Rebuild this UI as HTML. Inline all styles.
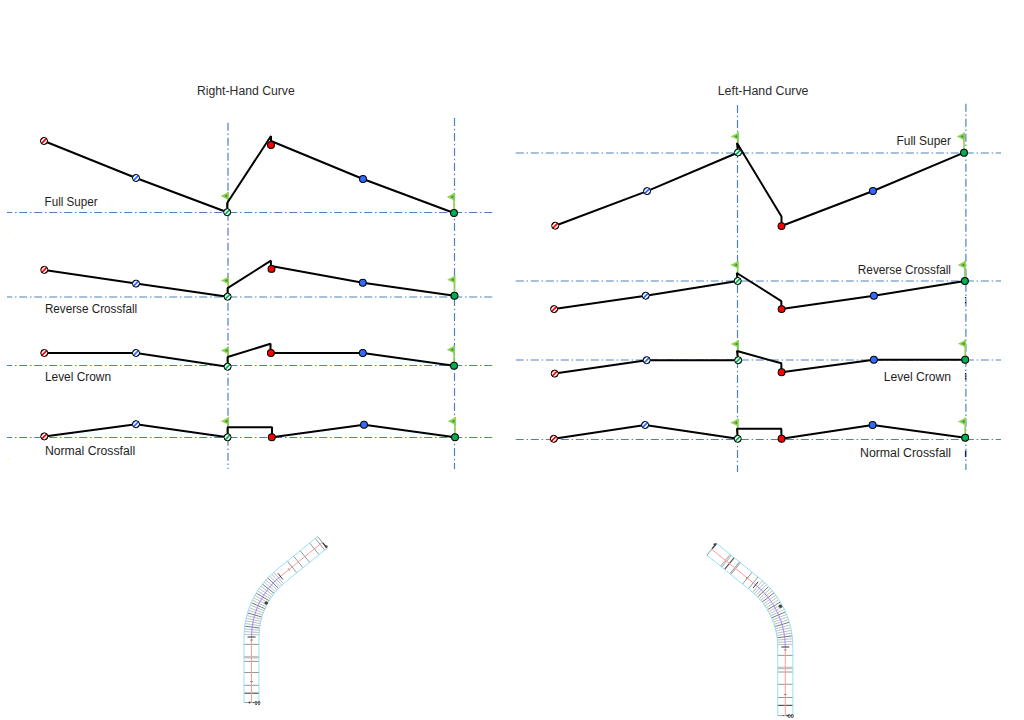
<!DOCTYPE html>
<html><head><meta charset="utf-8"><style>
html,body{margin:0;padding:0;background:#fff;}
svg{display:block;}
</style></head><body>
<svg width="1024" height="720" viewBox="0 0 1024 720">
<defs>
<filter id="bl" x="-10%" y="-10%" width="120%" height="120%"><feGaussianBlur stdDeviation="0.3"/></filter>
<clipPath id="cc"><circle r="3.6"/></clipPath>
<g id="hr"><g clip-path="url(#cc)"><rect x="-4" y="-4" width="8" height="8" fill="#fff"/><path d="M-6,6 L6,-6 M-3.67,8.33 L8.33,-3.67 M-8.33,3.67 L3.67,-8.33" stroke="#ff0000" stroke-width="1.75"/></g><circle r="3.55" fill="none" stroke="#000" stroke-width="1"/></g>
<g id="hb"><g clip-path="url(#cc)"><rect x="-4" y="-4" width="8" height="8" fill="#fff"/><path d="M-6,6 L6,-6 M-3.67,8.33 L8.33,-3.67 M-8.33,3.67 L3.67,-8.33" stroke="#2f6bff" stroke-width="1.75"/></g><circle r="3.55" fill="none" stroke="#000" stroke-width="1"/></g>
<g id="hg"><g clip-path="url(#cc)"><rect x="-4" y="-4" width="8" height="8" fill="#fff"/><path d="M-6,6 L6,-6 M-3.67,8.33 L8.33,-3.67 M-8.33,3.67 L3.67,-8.33" stroke="#00b050" stroke-width="1.75"/></g><circle r="3.55" fill="none" stroke="#000" stroke-width="1"/></g>
</defs>
<rect width="1024" height="720" fill="#fff"/>
<line x1="228.0" y1="122.7" x2="228.0" y2="469" stroke="#4f81bd" stroke-width="1.2" stroke-dasharray="8 2.8 1.5 2.7" stroke-dashoffset="0"/>
<line x1="454.5" y1="117.9" x2="454.5" y2="469" stroke="#4f81bd" stroke-width="1.2" stroke-dasharray="8 2.8 1.5 2.7" stroke-dashoffset="0"/>
<line x1="7" y1="212.5" x2="493" y2="212.5" stroke="#4f81bd" stroke-width="1.2" stroke-dasharray="8 2.8 1.5 2.7" stroke-dashoffset="2.8"/>
<line x1="7" y1="297.0" x2="493" y2="297.0" stroke="#4f81bd" stroke-width="1.2" stroke-dasharray="8 2.8 1.5 2.7" stroke-dashoffset="2.8"/>
<line x1="7" y1="365.5" x2="493" y2="365.5" stroke="#4f81bd" stroke-width="1.2" stroke-dasharray="8 2.8 1.5 2.7" stroke-dashoffset="2.8"/>
<line x1="7" y1="437.5" x2="493" y2="437.5" stroke="#4f81bd" stroke-width="1.2" stroke-dasharray="8 2.8 1.5 2.7" stroke-dashoffset="2.8"/>
<line x1="227.79999999999998" y1="192.0" x2="227.79999999999998" y2="209.2" stroke="#92d050" stroke-width="1.6"/>
<polygon points="228.54999999999998,192.0 228.54999999999998,200.0 220.49999999999997,196.1" fill="#92d050"/>
<polygon points="227.2,194.6 227.2,197.6 224.39999999999998,196.1" fill="#1f9e3f"/>
<line x1="454" y1="192.8" x2="454" y2="210" stroke="#92d050" stroke-width="1.6"/>
<polygon points="454.75,192.8 454.75,200.8 446.7,196.9" fill="#92d050"/>
<polygon points="453.4,195.4 453.4,198.4 450.6,196.9" fill="#1f9e3f"/>
<polyline points="44,141 136,178 227.2,212.2" fill="none" stroke="#000" stroke-width="2" stroke-linejoin="miter" stroke-miterlimit="1"/>
<polyline points="227.2,212.2 227.2,203 271,136 271,141" fill="none" stroke="#000" stroke-width="2" stroke-linejoin="miter" stroke-miterlimit="1"/>
<polyline points="271,141 363,179 454,213" fill="none" stroke="#000" stroke-width="2" stroke-linejoin="miter" stroke-miterlimit="1"/>
<use href="#hr" x="44" y="141"/>
<use href="#hb" x="136" y="178"/>
<use href="#hg" x="227.2" y="212.2"/>
<circle cx="271" cy="145" r="3.45" fill="#ff0000" stroke="#000" stroke-width="1.05"/>
<circle cx="363" cy="179" r="3.45" fill="#2f6bff" stroke="#000" stroke-width="1.05"/>
<circle cx="454" cy="213" r="3.45" fill="#00b050" stroke="#000" stroke-width="1.05"/>
<line x1="228.2" y1="276.5" x2="228.2" y2="293.7" stroke="#92d050" stroke-width="1.6"/>
<polygon points="228.95,276.5 228.95,284.5 220.89999999999998,280.6" fill="#92d050"/>
<polygon points="227.6,279.1 227.6,282.1 224.79999999999998,280.6" fill="#1f9e3f"/>
<line x1="454.5" y1="275.6" x2="454.5" y2="292.8" stroke="#92d050" stroke-width="1.6"/>
<polygon points="455.25,275.6 455.25,283.6 447.2,279.70000000000005" fill="#92d050"/>
<polygon points="453.9,278.20000000000005 453.9,281.20000000000005 451.1,279.70000000000005" fill="#1f9e3f"/>
<polyline points="44.3,269.9 136,283.6 227.6,296.7" fill="none" stroke="#000" stroke-width="2" stroke-linejoin="miter" stroke-miterlimit="1"/>
<polyline points="227.6,296.7 227.6,288.2 270.9,260.7 270.9,266" fill="none" stroke="#000" stroke-width="2" stroke-linejoin="miter" stroke-miterlimit="1"/>
<polyline points="271,266 362.8,282.7 454.5,295.8" fill="none" stroke="#000" stroke-width="2" stroke-linejoin="miter" stroke-miterlimit="1"/>
<use href="#hr" x="44.3" y="269.9"/>
<use href="#hb" x="136" y="283.6"/>
<use href="#hg" x="227.6" y="296.7"/>
<circle cx="271.5" cy="268.9" r="3.45" fill="#ff0000" stroke="#000" stroke-width="1.05"/>
<circle cx="362.8" cy="282.7" r="3.45" fill="#2f6bff" stroke="#000" stroke-width="1.05"/>
<circle cx="454.5" cy="295.8" r="3.45" fill="#00b050" stroke="#000" stroke-width="1.05"/>
<line x1="228.2" y1="346.5" x2="228.2" y2="363.7" stroke="#92d050" stroke-width="1.6"/>
<polygon points="228.95,346.5 228.95,354.5 220.89999999999998,350.6" fill="#92d050"/>
<polygon points="227.6,349.1 227.6,352.1 224.79999999999998,350.6" fill="#1f9e3f"/>
<line x1="454" y1="345.6" x2="454" y2="362.8" stroke="#92d050" stroke-width="1.6"/>
<polygon points="454.75,345.6 454.75,353.6 446.7,349.70000000000005" fill="#92d050"/>
<polygon points="453.4,348.20000000000005 453.4,351.20000000000005 450.6,349.70000000000005" fill="#1f9e3f"/>
<polyline points="44.3,353 136,353 227.6,366.7" fill="none" stroke="#000" stroke-width="2" stroke-linejoin="miter" stroke-miterlimit="1"/>
<polyline points="227.6,366.7 227.6,357 270.5,343.8 270.5,350" fill="none" stroke="#000" stroke-width="2" stroke-linejoin="miter" stroke-miterlimit="1"/>
<polyline points="270.9,353 362.8,353 454,365.8" fill="none" stroke="#000" stroke-width="2" stroke-linejoin="miter" stroke-miterlimit="1"/>
<use href="#hr" x="44.3" y="353"/>
<use href="#hb" x="136" y="353"/>
<use href="#hg" x="227.6" y="366.7"/>
<circle cx="270.9" cy="353" r="3.45" fill="#ff0000" stroke="#000" stroke-width="1.05"/>
<circle cx="362.8" cy="353" r="3.45" fill="#2f6bff" stroke="#000" stroke-width="1.05"/>
<circle cx="454" cy="365.8" r="3.45" fill="#00b050" stroke="#000" stroke-width="1.05"/>
<line x1="228.2" y1="417.1" x2="228.2" y2="434.3" stroke="#92d050" stroke-width="1.6"/>
<polygon points="228.95,417.1 228.95,425.1 220.89999999999998,421.20000000000005" fill="#92d050"/>
<polygon points="227.6,419.70000000000005 227.6,422.70000000000005 224.79999999999998,421.20000000000005" fill="#1f9e3f"/>
<line x1="455" y1="417.1" x2="455" y2="434.3" stroke="#92d050" stroke-width="1.6"/>
<polygon points="455.75,417.1 455.75,425.1 447.7,421.20000000000005" fill="#92d050"/>
<polygon points="454.4,419.70000000000005 454.4,422.70000000000005 451.6,421.20000000000005" fill="#1f9e3f"/>
<polyline points="44.3,436.4 136,424.2 227.6,437.3" fill="none" stroke="#000" stroke-width="2" stroke-linejoin="miter" stroke-miterlimit="1"/>
<polyline points="227.6,437.3 227.6,427.2 272,427.2 272,437.3" fill="none" stroke="#000" stroke-width="2" stroke-linejoin="miter" stroke-miterlimit="1"/>
<polyline points="272,437.3 364,424.8 455,437.3" fill="none" stroke="#000" stroke-width="2" stroke-linejoin="miter" stroke-miterlimit="1"/>
<use href="#hr" x="44.3" y="436.4"/>
<use href="#hb" x="136" y="424.2"/>
<use href="#hg" x="227.6" y="437.3"/>
<circle cx="271.8" cy="437.3" r="3.45" fill="#ff0000" stroke="#000" stroke-width="1.05"/>
<circle cx="364" cy="424.8" r="3.45" fill="#2f6bff" stroke="#000" stroke-width="1.05"/>
<circle cx="455" cy="437.3" r="3.45" fill="#00b050" stroke="#000" stroke-width="1.05"/>
<line x1="737.5" y1="104.2" x2="737.5" y2="472" stroke="#4f81bd" stroke-width="1.2" stroke-dasharray="8 2.8 1.5 2.7" stroke-dashoffset="-0.8"/>
<line x1="965.9" y1="103" x2="965.9" y2="470" stroke="#4f81bd" stroke-width="1.2" stroke-dasharray="8 2.8 1.5 2.7" stroke-dashoffset="-0.75"/>
<line x1="515.8" y1="153.0" x2="1001" y2="153.0" stroke="#4f81bd" stroke-width="1.2" stroke-dasharray="8 2.8 1.5 2.7" stroke-dashoffset="0"/>
<line x1="515.8" y1="281.0" x2="1001" y2="281.0" stroke="#4f81bd" stroke-width="1.2" stroke-dasharray="8 2.8 1.5 2.7" stroke-dashoffset="0"/>
<line x1="515.8" y1="360.0" x2="1001" y2="360.0" stroke="#4f81bd" stroke-width="1.2" stroke-dasharray="8 2.8 1.5 2.7" stroke-dashoffset="0"/>
<line x1="515.8" y1="439.5" x2="1001" y2="439.5" stroke="#4f81bd" stroke-width="1.2" stroke-dasharray="8 2.8 1.5 2.7" stroke-dashoffset="0"/>
<line x1="738" y1="132.3" x2="738" y2="149.5" stroke="#92d050" stroke-width="1.6"/>
<polygon points="738.75,132.3 738.75,140.3 730.7,136.4" fill="#92d050"/>
<polygon points="737.4,134.9 737.4,137.9 734.6,136.4" fill="#1f9e3f"/>
<line x1="964" y1="132.5" x2="964" y2="149.7" stroke="#92d050" stroke-width="1.6"/>
<polygon points="964.75,132.5 964.75,140.5 956.7,136.6" fill="#92d050"/>
<polygon points="963.4,135.1 963.4,138.1 960.6,136.6" fill="#1f9e3f"/>
<polyline points="555.2,225.7 647.1,191.1 738,152.5" fill="none" stroke="#000" stroke-width="2" stroke-linejoin="miter" stroke-miterlimit="1"/>
<polyline points="738,152.5 737,143 781.5,216.6 781.5,226" fill="none" stroke="#000" stroke-width="2" stroke-linejoin="miter" stroke-miterlimit="1"/>
<polyline points="781.5,226 873,191 964,152.7" fill="none" stroke="#000" stroke-width="2" stroke-linejoin="miter" stroke-miterlimit="1"/>
<use href="#hr" x="555.2" y="225.7"/>
<use href="#hb" x="647.1" y="191.1"/>
<use href="#hg" x="738" y="152.5"/>
<circle cx="781.5" cy="226.1" r="3.45" fill="#ff0000" stroke="#000" stroke-width="1.05"/>
<circle cx="872.9" cy="191" r="3.45" fill="#2f6bff" stroke="#000" stroke-width="1.05"/>
<circle cx="964" cy="152.7" r="3.45" fill="#00b050" stroke="#000" stroke-width="1.05"/>
<line x1="737.7" y1="260.8" x2="737.7" y2="278" stroke="#92d050" stroke-width="1.6"/>
<polygon points="738.45,260.8 738.45,268.8 730.4000000000001,264.90000000000003" fill="#92d050"/>
<polygon points="737.1,263.40000000000003 737.1,266.40000000000003 734.3000000000001,264.90000000000003" fill="#1f9e3f"/>
<line x1="964.9" y1="260.8" x2="964.9" y2="278" stroke="#92d050" stroke-width="1.6"/>
<polygon points="965.65,260.8 965.65,268.8 957.6,264.90000000000003" fill="#92d050"/>
<polygon points="964.3,263.40000000000003 964.3,266.40000000000003 961.5,264.90000000000003" fill="#1f9e3f"/>
<polyline points="554.1,309.1 645.7,295.7 737.7,281" fill="none" stroke="#000" stroke-width="2" stroke-linejoin="miter" stroke-miterlimit="1"/>
<polyline points="737.7,281 736.8,273 781.3,301.1 781.5,309.1" fill="none" stroke="#000" stroke-width="2" stroke-linejoin="miter" stroke-miterlimit="1"/>
<polyline points="781.5,309.1 873.9,295.7 964.9,281" fill="none" stroke="#000" stroke-width="2" stroke-linejoin="miter" stroke-miterlimit="1"/>
<use href="#hr" x="554.1" y="309.1"/>
<use href="#hb" x="645.7" y="295.7"/>
<use href="#hg" x="737.7" y="281"/>
<circle cx="781.6" cy="309.1" r="3.45" fill="#ff0000" stroke="#000" stroke-width="1.05"/>
<circle cx="873.9" cy="295.7" r="3.45" fill="#2f6bff" stroke="#000" stroke-width="1.05"/>
<circle cx="964.9" cy="281" r="3.45" fill="#00b050" stroke="#000" stroke-width="1.05"/>
<line x1="738.2" y1="340.0" x2="738.2" y2="357.2" stroke="#92d050" stroke-width="1.6"/>
<polygon points="738.95,340.0 738.95,348.0 730.9000000000001,344.1" fill="#92d050"/>
<polygon points="737.6,342.6 737.6,345.6 734.8000000000001,344.1" fill="#1f9e3f"/>
<line x1="965.2" y1="339.6" x2="965.2" y2="356.8" stroke="#92d050" stroke-width="1.6"/>
<polygon points="965.95,339.6 965.95,347.6 957.9000000000001,343.70000000000005" fill="#92d050"/>
<polygon points="964.6,342.20000000000005 964.6,345.20000000000005 961.8000000000001,343.70000000000005" fill="#1f9e3f"/>
<polyline points="554.7,373.6 646.7,360.2 738.4,360.2" fill="none" stroke="#000" stroke-width="2" stroke-linejoin="miter" stroke-miterlimit="1"/>
<polyline points="738,360 737,351 781.3,363.3 781.5,372.3" fill="none" stroke="#000" stroke-width="2" stroke-linejoin="miter" stroke-miterlimit="1"/>
<polyline points="781.5,372.3 873.9,359.8 965.2,359.8" fill="none" stroke="#000" stroke-width="2" stroke-linejoin="miter" stroke-miterlimit="1"/>
<use href="#hr" x="554.7" y="373.6"/>
<use href="#hb" x="646.7" y="360.2"/>
<use href="#hg" x="738.2" y="360.2"/>
<circle cx="781.6" cy="372.3" r="3.45" fill="#ff0000" stroke="#000" stroke-width="1.05"/>
<circle cx="873.9" cy="359.8" r="3.45" fill="#2f6bff" stroke="#000" stroke-width="1.05"/>
<circle cx="965.2" cy="359.8" r="3.45" fill="#00b050" stroke="#000" stroke-width="1.05"/>
<line x1="737.7" y1="418.6" x2="737.7" y2="435.8" stroke="#92d050" stroke-width="1.6"/>
<polygon points="738.45,418.6 738.45,426.6 730.4000000000001,422.70000000000005" fill="#92d050"/>
<polygon points="737.1,421.20000000000005 737.1,424.20000000000005 734.3000000000001,422.70000000000005" fill="#1f9e3f"/>
<line x1="965.2" y1="417.5" x2="965.2" y2="434.7" stroke="#92d050" stroke-width="1.6"/>
<polygon points="965.95,417.5 965.95,425.5 957.9000000000001,421.6" fill="#92d050"/>
<polygon points="964.6,420.1 964.6,423.1 961.8000000000001,421.6" fill="#1f9e3f"/>
<polyline points="553.8,438.8 645.1,425 737.7,438.8" fill="none" stroke="#000" stroke-width="2" stroke-linejoin="miter" stroke-miterlimit="1"/>
<polyline points="737.7,438.8 737,428.8 781.3,428.8 781.5,438.7" fill="none" stroke="#000" stroke-width="2" stroke-linejoin="miter" stroke-miterlimit="1"/>
<polyline points="781.5,438.7 872.6,425 965.2,437.7" fill="none" stroke="#000" stroke-width="2" stroke-linejoin="miter" stroke-miterlimit="1"/>
<use href="#hr" x="553.8" y="438.8"/>
<use href="#hb" x="645.1" y="425"/>
<use href="#hg" x="737.7" y="438.8"/>
<circle cx="781.6" cy="438.7" r="3.45" fill="#ff0000" stroke="#000" stroke-width="1.05"/>
<circle cx="872.6" cy="425" r="3.45" fill="#2f6bff" stroke="#000" stroke-width="1.05"/>
<circle cx="965.2" cy="437.7" r="3.45" fill="#00b050" stroke="#000" stroke-width="1.05"/>
<g fill="#1e1e1e" font-family="Liberation Sans, sans-serif">
<g fill="#2c2c2c">
<text x="197" y="94.5" font-size="12.5" text-anchor="start" textLength="97.7" lengthAdjust="spacingAndGlyphs">Right-Hand Curve</text>
<text x="717.7" y="94.5" font-size="12.5" text-anchor="start" textLength="90.8" lengthAdjust="spacingAndGlyphs">Left-Hand Curve</text>
</g>
<text x="44.6" y="205.9" font-size="12.5" text-anchor="start" textLength="53" lengthAdjust="spacingAndGlyphs">Full Super</text>
<text x="44.9" y="312.6" font-size="12.5" text-anchor="start" textLength="92.3" lengthAdjust="spacingAndGlyphs">Reverse Crossfall</text>
<text x="44.9" y="380.6" font-size="12.5" text-anchor="start" textLength="66.2" lengthAdjust="spacingAndGlyphs">Level Crown</text>
<text x="44.9" y="454.6" font-size="12.5" text-anchor="start" textLength="90.3" lengthAdjust="spacingAndGlyphs">Normal Crossfall</text>
<text x="896.5" y="144.7" font-size="12.5" text-anchor="start" textLength="54.5" lengthAdjust="spacingAndGlyphs">Full Super</text>
<text x="857.8" y="273.7" font-size="12.5" text-anchor="start" textLength="93.2" lengthAdjust="spacingAndGlyphs">Reverse Crossfall</text>
<text x="883.8" y="380.7" font-size="12.5" text-anchor="start" textLength="67.2" lengthAdjust="spacingAndGlyphs">Level Crown</text>
<text x="860" y="456.7" font-size="12.5" text-anchor="start" textLength="91" lengthAdjust="spacingAndGlyphs">Normal Crossfall</text>
</g>
<g filter="url(#bl)">
<line x1="244.00" y1="644.40" x2="259.00" y2="644.40" stroke="#8a8a8a" stroke-width="0.9"/>
<line x1="244.00" y1="657.20" x2="259.00" y2="657.20" stroke="#c4c4c4" stroke-width="2.6"/>
<line x1="244.00" y1="661.40" x2="259.00" y2="661.40" stroke="#8a8a8a" stroke-width="0.9"/>
<line x1="244.00" y1="672.50" x2="259.00" y2="672.50" stroke="#8a8a8a" stroke-width="0.9"/>
<line x1="244.00" y1="685.30" x2="259.00" y2="685.30" stroke="#8a8a8a" stroke-width="0.9"/>
<line x1="244.00" y1="693.20" x2="259.00" y2="693.20" stroke="#555" stroke-width="1.2"/>
<line x1="287.35" y1="561.11" x2="296.79" y2="572.77" stroke="#8a8a8a" stroke-width="0.9"/>
<line x1="293.57" y1="556.08" x2="303.01" y2="567.74" stroke="#8a8a8a" stroke-width="0.9"/>
<line x1="300.17" y1="550.73" x2="309.61" y2="562.39" stroke="#8a8a8a" stroke-width="0.9"/>
<line x1="309.65" y1="543.05" x2="319.09" y2="554.71" stroke="#8a8a8a" stroke-width="0.9"/>
<line x1="315.33" y1="538.46" x2="324.77" y2="550.12" stroke="#8a8a8a" stroke-width="0.9"/>
<line x1="244.04" y1="634.28" x2="259.04" y2="634.76" stroke="#a0a0a0" stroke-width="0.7"/>
<line x1="244.17" y1="631.57" x2="259.14" y2="632.52" stroke="#a0a0a0" stroke-width="0.7"/>
<line x1="244.39" y1="628.86" x2="259.32" y2="630.29" stroke="#a0a0a0" stroke-width="0.7"/>
<line x1="244.69" y1="626.16" x2="259.57" y2="628.06" stroke="#707070" stroke-width="0.95"/>
<line x1="245.08" y1="623.47" x2="259.89" y2="625.84" stroke="#a0a0a0" stroke-width="0.7"/>
<line x1="245.55" y1="620.79" x2="260.28" y2="623.63" stroke="#a0a0a0" stroke-width="0.7"/>
<line x1="246.11" y1="618.13" x2="260.74" y2="621.44" stroke="#a0a0a0" stroke-width="0.7"/>
<line x1="246.75" y1="615.49" x2="261.27" y2="619.26" stroke="#a0a0a0" stroke-width="0.7"/>
<line x1="247.48" y1="612.87" x2="261.87" y2="617.10" stroke="#707070" stroke-width="0.95"/>
<line x1="248.28" y1="610.28" x2="262.53" y2="614.96" stroke="#a0a0a0" stroke-width="0.7"/>
<line x1="249.17" y1="607.71" x2="263.27" y2="612.85" stroke="#a0a0a0" stroke-width="0.7"/>
<line x1="250.15" y1="605.17" x2="264.07" y2="610.75" stroke="#a0a0a0" stroke-width="0.7"/>
<line x1="251.20" y1="602.66" x2="264.94" y2="608.69" stroke="#707070" stroke-width="0.95"/>
<line x1="252.33" y1="600.19" x2="265.87" y2="606.65" stroke="#a0a0a0" stroke-width="0.7"/>
<line x1="253.54" y1="597.76" x2="266.86" y2="604.64" stroke="#a0a0a0" stroke-width="0.7"/>
<line x1="254.82" y1="595.36" x2="267.92" y2="602.67" stroke="#a0a0a0" stroke-width="0.7"/>
<line x1="256.18" y1="593.01" x2="269.05" y2="600.73" stroke="#707070" stroke-width="0.95"/>
<line x1="257.62" y1="590.70" x2="270.23" y2="598.82" stroke="#a0a0a0" stroke-width="0.7"/>
<line x1="259.13" y1="588.44" x2="271.47" y2="596.96" stroke="#a0a0a0" stroke-width="0.7"/>
<line x1="260.71" y1="586.23" x2="272.78" y2="595.14" stroke="#a0a0a0" stroke-width="0.7"/>
<line x1="262.36" y1="584.07" x2="274.14" y2="593.35" stroke="#707070" stroke-width="0.95"/>
<line x1="264.07" y1="581.96" x2="275.55" y2="591.62" stroke="#a0a0a0" stroke-width="0.7"/>
<line x1="265.85" y1="579.91" x2="277.02" y2="589.92" stroke="#a0a0a0" stroke-width="0.7"/>
<line x1="267.70" y1="577.91" x2="278.54" y2="588.28" stroke="#707070" stroke-width="0.95"/>
<line x1="269.61" y1="575.98" x2="280.12" y2="586.69" stroke="#a0a0a0" stroke-width="0.7"/>
<line x1="271.58" y1="574.11" x2="281.74" y2="585.14" stroke="#a0a0a0" stroke-width="0.7"/>
<line x1="273.61" y1="572.30" x2="283.41" y2="583.65" stroke="#a0a0a0" stroke-width="0.7"/>
<line x1="251.50" y1="637.00" x2="251.50" y2="702.50" stroke="#ff9a9a" stroke-width="1"/>
<line x1="280.41" y1="576.38" x2="322.38" y2="542.40" stroke="#ff9a9a" stroke-width="1"/>
<path d="M251.5,637 A78,78 0 0 1 280.41,576.38" fill="none" stroke="#8a8aff" stroke-width="0.9"/>
<path d="M244.00,702.50 L244.00,637.00 A85.5,85.5 0 0 1 275.69,570.55 L317.66,536.57" fill="none" stroke="#8fdff8" stroke-width="0.95"/>
<path d="M259.00,702.50 L259.00,637.00 A70.5,70.5 0 0 1 285.13,582.21 L327.10,548.23" fill="none" stroke="#8fdff8" stroke-width="0.95"/>
<line x1="247.50" y1="637.00" x2="255.50" y2="637.00" stroke="#333" stroke-width="1.0"/>
<line x1="277.90" y1="573.27" x2="282.93" y2="579.49" stroke="#333" stroke-width="1.0"/>
<line x1="250.00" y1="640.00" x2="253.00" y2="640.00" stroke="#777" stroke-width="0.8"/>
<line x1="250.00" y1="681.50" x2="253.00" y2="681.50" stroke="#777" stroke-width="0.8"/>
<line x1="288.02" y1="568.29" x2="289.91" y2="570.63" stroke="#777" stroke-width="0.8"/>
<line x1="317.66" y1="536.57" x2="327.10" y2="548.23" stroke="#888" stroke-width="0.9"/>
<line x1="322.85" y1="542.98" x2="326.86" y2="547.94" stroke="#333" stroke-width="1.2"/>
<circle cx="326.29" cy="546.44" r="1.3" fill="#444"/>
<line x1="244.00" y1="702.50" x2="259.00" y2="702.50" stroke="#999" stroke-width="0.9"/>
<circle cx="249.50" cy="702.50" r="0.9" fill="#333"/>
<circle cx="253.50" cy="702.50" r="0.7" fill="#555"/>
<circle cx="266.22" cy="603.07" r="1.8" fill="#444"/>
<text x="254.5" y="704.6" font-size="5.5" font-weight="bold" fill="#333" font-family="Liberation Sans, sans-serif">00</text>
</g>
<g filter="url(#bl)">
<line x1="792.90" y1="655.40" x2="777.70" y2="655.40" stroke="#8a8a8a" stroke-width="0.9"/>
<line x1="792.90" y1="668.00" x2="777.70" y2="668.00" stroke="#c4c4c4" stroke-width="2.6"/>
<line x1="792.90" y1="672.00" x2="777.70" y2="672.00" stroke="#8a8a8a" stroke-width="0.9"/>
<line x1="792.90" y1="684.30" x2="777.70" y2="684.30" stroke="#8a8a8a" stroke-width="0.9"/>
<line x1="792.90" y1="697.50" x2="777.70" y2="697.50" stroke="#8a8a8a" stroke-width="0.9"/>
<line x1="792.90" y1="705.40" x2="777.70" y2="705.40" stroke="#555" stroke-width="1.2"/>
<line x1="758.02" y1="576.97" x2="748.45" y2="588.78" stroke="#8a8a8a" stroke-width="0.9"/>
<line x1="752.11" y1="572.19" x2="742.55" y2="584.00" stroke="#8a8a8a" stroke-width="0.9"/>
<line x1="740.38" y1="562.69" x2="730.81" y2="574.50" stroke="#8a8a8a" stroke-width="0.9"/>
<line x1="739.45" y1="561.93" x2="729.88" y2="573.74" stroke="#8a8a8a" stroke-width="0.9"/>
<line x1="734.16" y1="557.65" x2="724.60" y2="569.46" stroke="#555" stroke-width="1.2"/>
<line x1="731.52" y1="555.51" x2="721.95" y2="567.32" stroke="#aaa" stroke-width="0.8"/>
<line x1="730.74" y1="554.88" x2="721.18" y2="566.69" stroke="#aaa" stroke-width="0.8"/>
<line x1="729.96" y1="554.25" x2="720.40" y2="566.07" stroke="#aaa" stroke-width="0.8"/>
<line x1="792.86" y1="644.22" x2="777.66" y2="644.70" stroke="#a0a0a0" stroke-width="0.7"/>
<line x1="792.72" y1="641.43" x2="777.55" y2="642.40" stroke="#a0a0a0" stroke-width="0.7"/>
<line x1="792.50" y1="638.66" x2="777.37" y2="640.11" stroke="#a0a0a0" stroke-width="0.7"/>
<line x1="792.19" y1="635.89" x2="777.12" y2="637.82" stroke="#707070" stroke-width="0.95"/>
<line x1="791.80" y1="633.13" x2="776.79" y2="635.54" stroke="#a0a0a0" stroke-width="0.7"/>
<line x1="791.31" y1="630.39" x2="776.39" y2="633.27" stroke="#a0a0a0" stroke-width="0.7"/>
<line x1="790.74" y1="627.67" x2="775.91" y2="631.02" stroke="#a0a0a0" stroke-width="0.7"/>
<line x1="790.08" y1="624.96" x2="775.37" y2="628.79" stroke="#a0a0a0" stroke-width="0.7"/>
<line x1="789.34" y1="622.28" x2="774.76" y2="626.57" stroke="#707070" stroke-width="0.95"/>
<line x1="788.51" y1="619.62" x2="774.07" y2="624.37" stroke="#a0a0a0" stroke-width="0.7"/>
<line x1="787.60" y1="616.99" x2="773.32" y2="622.20" stroke="#a0a0a0" stroke-width="0.7"/>
<line x1="786.60" y1="614.39" x2="772.50" y2="620.05" stroke="#a0a0a0" stroke-width="0.7"/>
<line x1="785.53" y1="611.82" x2="771.60" y2="617.92" stroke="#707070" stroke-width="0.95"/>
<line x1="784.37" y1="609.29" x2="770.65" y2="615.83" stroke="#a0a0a0" stroke-width="0.7"/>
<line x1="783.13" y1="606.79" x2="769.62" y2="613.77" stroke="#a0a0a0" stroke-width="0.7"/>
<line x1="781.81" y1="604.34" x2="768.53" y2="611.74" stroke="#a0a0a0" stroke-width="0.7"/>
<line x1="780.42" y1="601.93" x2="767.38" y2="609.75" stroke="#707070" stroke-width="0.95"/>
<line x1="778.95" y1="599.56" x2="766.17" y2="607.80" stroke="#a0a0a0" stroke-width="0.7"/>
<line x1="777.40" y1="597.25" x2="764.89" y2="605.88" stroke="#a0a0a0" stroke-width="0.7"/>
<line x1="775.78" y1="594.98" x2="763.55" y2="604.01" stroke="#a0a0a0" stroke-width="0.7"/>
<line x1="774.09" y1="592.77" x2="762.16" y2="602.18" stroke="#707070" stroke-width="0.95"/>
<line x1="772.34" y1="590.61" x2="760.70" y2="600.39" stroke="#a0a0a0" stroke-width="0.7"/>
<line x1="770.51" y1="588.51" x2="759.19" y2="598.66" stroke="#a0a0a0" stroke-width="0.7"/>
<line x1="768.62" y1="586.46" x2="757.63" y2="596.97" stroke="#707070" stroke-width="0.95"/>
<line x1="766.66" y1="584.48" x2="756.01" y2="595.33" stroke="#a0a0a0" stroke-width="0.7"/>
<line x1="764.64" y1="582.56" x2="754.35" y2="593.74" stroke="#a0a0a0" stroke-width="0.7"/>
<line x1="762.56" y1="580.71" x2="752.63" y2="592.21" stroke="#a0a0a0" stroke-width="0.7"/>
<line x1="785.30" y1="647.00" x2="785.30" y2="715.60" stroke="#ff9a9a" stroke-width="1"/>
<line x1="755.65" y1="584.83" x2="711.74" y2="549.27" stroke="#ff9a9a" stroke-width="1"/>
<path d="M785.3,647 A80,80 0 0 0 755.65,584.83" fill="none" stroke="#8a8aff" stroke-width="0.9"/>
<path d="M792.90,715.60 L792.90,647.00 A87.6,87.6 0 0 0 760.43,578.92 L716.52,543.37" fill="none" stroke="#8fdff8" stroke-width="0.95"/>
<path d="M777.70,715.60 L777.70,647.00 A72.4,72.4 0 0 0 750.86,590.73 L706.95,555.18" fill="none" stroke="#8fdff8" stroke-width="0.95"/>
<line x1="789.30" y1="647.00" x2="781.30" y2="647.00" stroke="#333" stroke-width="1.0"/>
<line x1="758.16" y1="581.72" x2="753.13" y2="587.94" stroke="#333" stroke-width="1.0"/>
<line x1="786.80" y1="650.00" x2="783.80" y2="650.00" stroke="#777" stroke-width="0.8"/>
<line x1="786.80" y1="694.60" x2="783.80" y2="694.60" stroke="#777" stroke-width="0.8"/>
<line x1="748.04" y1="576.74" x2="746.15" y2="579.07" stroke="#777" stroke-width="0.8"/>
<line x1="716.52" y1="543.37" x2="706.95" y2="555.18" stroke="#888" stroke-width="0.9"/>
<line x1="712.22" y1="548.68" x2="716.28" y2="543.66" stroke="#333" stroke-width="1.2"/>
<circle cx="714.87" cy="544.61" r="1.3" fill="#444"/>
<line x1="792.90" y1="715.60" x2="777.70" y2="715.60" stroke="#999" stroke-width="0.9"/>
<circle cx="787.30" cy="715.60" r="0.9" fill="#333"/>
<circle cx="783.30" cy="715.60" r="0.7" fill="#555"/>
<circle cx="780.35" cy="606.25" r="1.8" fill="#444"/>
<text x="787.8" y="717.8" font-size="5.5" font-weight="bold" fill="#333" font-family="Liberation Sans, sans-serif">00</text>
</g>
<rect x="964.9" y="297" width="1.3" height="1.3" fill="#111"/>
<rect x="964.9" y="302" width="1.3" height="1.3" fill="#111"/>
<rect x="964.9" y="373" width="1.3" height="1.3" fill="#111"/>
<rect x="964.9" y="375.5" width="1.3" height="1.3" fill="#111"/>
<rect x="964.9" y="378" width="1.3" height="1.3" fill="#111"/>
<rect x="8" y="232" width="1" height="1" fill="#ffff90"/>
<rect x="9" y="458" width="1" height="2" fill="#ffff80"/>
<rect x="964.9" y="451" width="1.3" height="6" fill="#1a2060"/>
</svg>
</body></html>
